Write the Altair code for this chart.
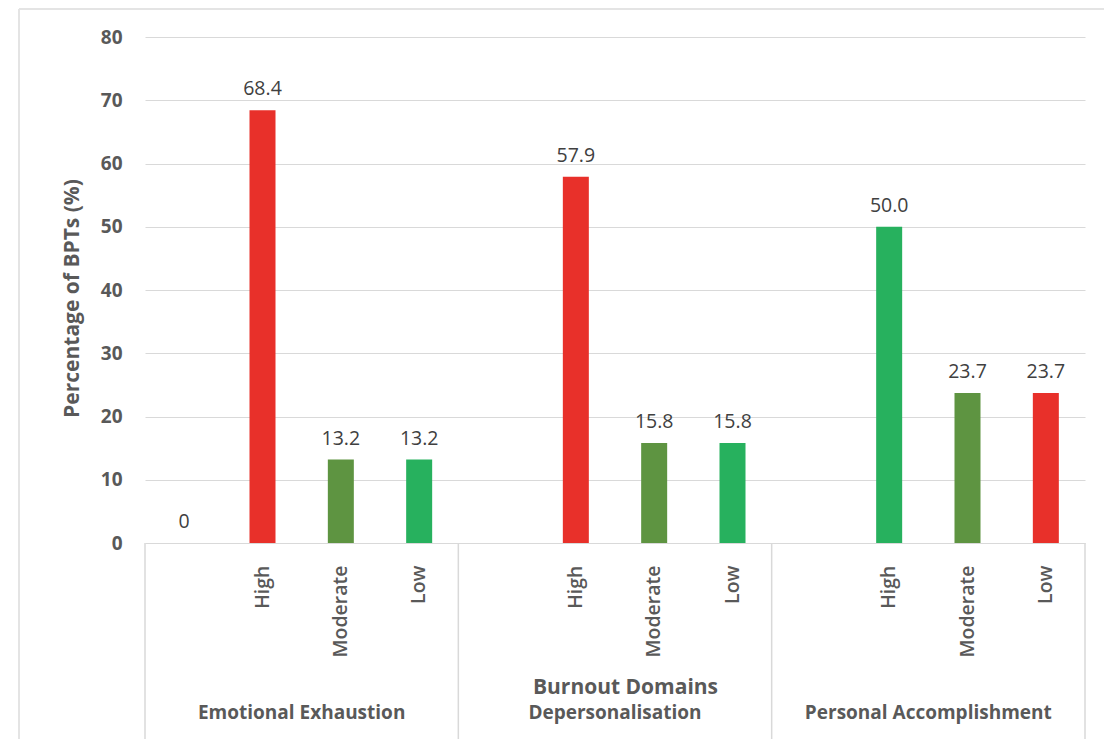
import altair as alt
import pandas as pd

groups = ["Emotional Exhaustion", "Depersonalisation", "Personal Accomplishment"]
levels = ["", "High", "Moderate", "Low"]
values = [
    [0, 68.4, 13.2, 13.2],
    [None, 57.9, 15.8, 15.8],
    [None, 50.0, 23.7, 23.7],
]
tones = [
    ["", "bad", "mid", "good"],
    ["", "bad", "mid", "good"],
    ["", "good", "mid", "bad"],
]
tone_domain = ["bad", "mid", "good"]
tone_colors = ["#E8302A", "#5E9441", "#27B15E"]

rows = []
for gi, g in enumerate(groups):
    for li, lv in enumerate(levels):
        rows.append({"slot": f"{gi}:{lv}", "group": g, "level": lv,
                     "v": values[gi][li], "tone": tones[gi][li]})
df = pd.DataFrame(rows)
slot_order = list(df["slot"])

FONT = "Open Sans"
GRAY = "#595959"
LINE = "#d9d9d9"

xscale = alt.Scale(domain=slot_order, paddingInner=0, paddingOuter=0)
x_axis = alt.Axis(labelExpr="split(datum.value, ':')[1]", labelAngle=-90, labelAlign="right",
                  labelBaseline="middle", labelPadding=22, labelFontSize=19.5, labelColor=GRAY,
                  labelFont=FONT, labelFontWeight=600, domain=False, ticks=False, grid=False,
                  title="Burnout Domains", titleFont=FONT, titleFontSize=21, titleFontWeight="bold",
                  titleColor=GRAY, titleX=480, titleY=144, titleBaseline="middle")
y_axis = alt.Axis(values=list(range(0, 81, 10)), grid=True, gridColor=LINE, domain=False, ticks=False,
                  labelPadding=23, labelFontSize=19, labelFontWeight="bold", labelColor=GRAY, labelFont=FONT,
                  title="Percentage of BPTs (%)", titleFont=FONT, titleFontSize=21, titleFontWeight="bold",
                  titleColor=GRAY, titleX=-73, titleY=261, titleAngle=-90, titleBaseline="middle",
                  titleAlign="center")

base = alt.Chart(df)

bars = base.transform_filter("isValid(datum.v) && datum.v > 0").mark_bar(size=26).encode(
    x=alt.X("slot:N", scale=xscale, axis=x_axis, sort=slot_order),
    y=alt.Y("v:Q", scale=alt.Scale(domain=[0, 80], nice=False), axis=y_axis),
    color=alt.Color("tone:N", scale=alt.Scale(domain=tone_domain, range=tone_colors), legend=None),
)

labels = base.transform_filter("isValid(datum.v)").transform_calculate(
    lab="datum.v == 0 ? '0' : format(datum.v, '.1f')"
).mark_text(font=FONT, fontSize=19.5, color="#404040", baseline="alphabetic", dy=-15).encode(
    x=alt.X("slot:N", scale=xscale, sort=slot_order),
    y=alt.Y("v:Q"),
    text="lab:N",
)

first_slots = pd.DataFrame({"slot": [f"{gi}:" for gi in range(len(groups))]})
last_slot = pd.DataFrame({"slot": [f"{len(groups)-1}:Low"]})
div1 = alt.Chart(first_slots).mark_rule(color=LINE, strokeWidth=1.5).encode(
    x=alt.X("slot:N", scale=xscale, bandPosition=0),
    y=alt.value(506), y2=alt.value(702))
div2 = alt.Chart(last_slot).mark_rule(color=LINE, strokeWidth=1.5).encode(
    x=alt.X("slot:N", scale=xscale, bandPosition=1),
    y=alt.value(506), y2=alt.value(702))

grp = pd.DataFrame({"slot": [f"{gi}:High" for gi in range(len(groups))], "group": groups})
grp_text = alt.Chart(grp).mark_text(font=FONT, fontSize=19, fontWeight="bold", color=GRAY).encode(
    x=alt.X("slot:N", scale=xscale, bandPosition=1),
    y=alt.value(676),
    text="group:N")

frame_left = alt.Chart(first_slots).mark_rule(color="#e3e3e3", strokeWidth=1.5).encode(
    x=alt.value(-126), y=alt.value(-28), y2=alt.value(702))
frame_top = alt.Chart(first_slots).mark_rule(color="#e3e3e3", strokeWidth=1.5).encode(
    x=alt.value(-126), x2=alt.value(959), y=alt.value(-28))

chart = alt.layer(bars, labels, div1, div2, grp_text, frame_left, frame_top).properties(
    width=940, height=506,
    autosize=alt.AutoSizeParams(type="none"),
    padding={"left": 145, "top": 37, "right": 19, "bottom": 196},
    background="white",
).configure_view(stroke=None)

chart.save("out.html", embed_options={"renderer": "svg", "actions": False})
